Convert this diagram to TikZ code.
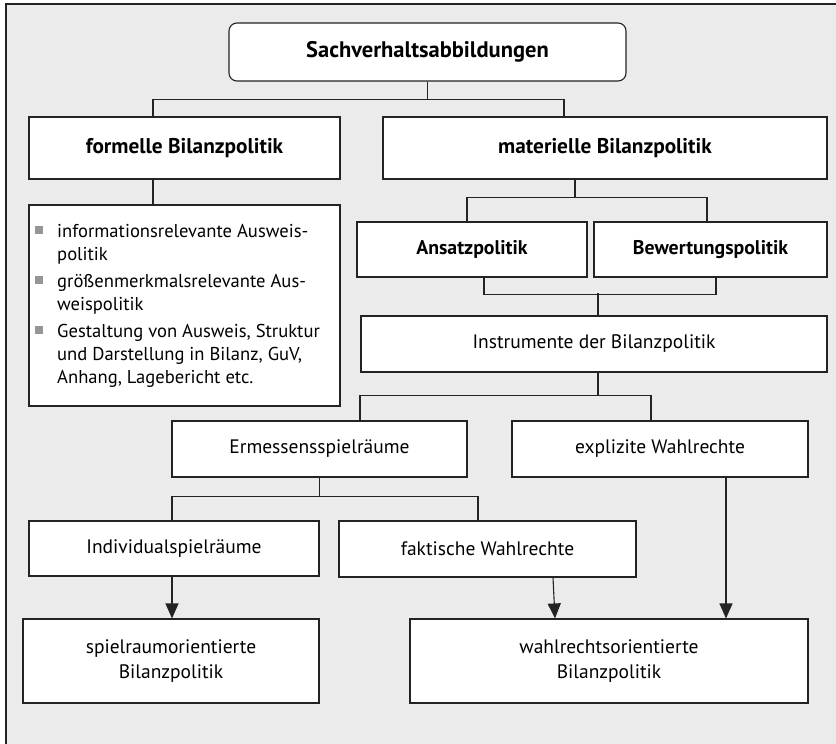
\documentclass[tikz,border=0pt]{standalone}
\usepackage{fontspec}
\setmainfont{PT Sans}
\usetikzlibrary{arrows.meta}
\definecolor{bg}{RGB}{235,235,235}
\definecolor{ln}{RGB}{35,35,35}
\definecolor{bulletgray}{RGB}{150,150,150}
\newcommand{\blt}{\textcolor{bulletgray}{\raisebox{3pt}{\rule{8pt}{8pt}}}}
\begin{document}
\begin{tikzpicture}[x=1pt,y=-1pt,
  box/.style={draw=ln, line width=1.1pt, fill=white, inner sep=0pt, text=black,
              font=\fontsize{19.5}{25}\selectfont, align=center},
  boldbox/.style={box, font=\fontsize{21.3}{23}\selectfont\bfseries},
  smallbold/.style={box, font=\fontsize{19.8}{22}\selectfont\bfseries},
  conn/.style={draw=ln, line width=1.1pt},
  arr/.style={conn, -{Triangle[length=15pt,width=13pt]}}]
\useasboundingbox (0,0) rectangle (836,744);
\fill[bg] (6,4) rectangle (836,744);
\draw[line width=1.2pt, ln] (6,744) -- (6,4) -- (836,4);

\node[boldbox, font=\fontsize{22.5}{24}\selectfont\bfseries, rounded corners=8pt, minimum width=397, minimum height=58] (root) at (427.5,52) {Sachverhaltsabbildungen};
\node[boldbox, minimum width=311, minimum height=62] (form) at (184.5,148) {formelle Bilanzpolitik};
\node[boldbox, minimum width=444, minimum height=62] (mat) at (605,148) {materielle Bilanzpolitik};
\node[box, minimum width=311, minimum height=201] (list) at (184.5,305.5) {};
\node[anchor=north west, inner sep=0pt, font=\fontsize{18.6}{23}\selectfont, align=left] (listtext) at (35,221)
 {\begin{tabular}{@{}l@{\hspace{14pt}}l@{}}
  \blt & informationsrelevante Ausweis-\\
       & politik\\[4pt]
  \blt & größenmerkmalsrelevante Aus-\\
       & weispolitik\\[4pt]
  \blt & Gestaltung von Ausweis, Struktur\\
       & und Darstellung in Bilanz, GuV,\\
       & Anhang, Lagebericht etc.
  \end{tabular}};
\node[smallbold, minimum width=230, minimum height=55] (ans) at (472,249.5) {Ansatzpolitik};
\node[smallbold, minimum width=233, minimum height=55] (bew) at (710.5,249.5) {Bewertungspolitik};
\node[box, minimum width=466, minimum height=56] (instr) at (594,344) {Instrumente der Bilanzpolitik};
\node[box, minimum width=295, minimum height=56] (erm) at (319.5,449) {Ermessensspielräume};
\node[box, minimum width=296, minimum height=56] (expl) at (660,449) {explizite Wahlrechte};
\node[box, minimum width=290, minimum height=55] (indiv) at (174,548.5) {Individualspielräume};
\node[box, minimum width=297, minimum height=56] (fakt) at (487.5,549) {faktische Wahlrechte};
\node[box, minimum width=296, minimum height=84] (spiel) at (171,661) {spielraumorientierte\\Bilanzpolitik};
\node[box, minimum width=398, minimum height=84] (wahl) at (609,661) {wahlrechtsorientierte\\Bilanzpolitik};

% connectors
\draw[conn] (root.south) -- ++(0,18) -| ([xshift=-31.5]form.north);
\draw[conn] (root.south) -- ++(0,18) -| ([xshift=-41]mat.north);
\draw[conn] ([xshift=-31.5]form.south) -- ([xshift=-31.5]list.north);
\draw[conn] ([xshift=-30]mat.south) -- ++(0,18) -| ([xshift=-5]ans.north);
\draw[conn] ([xshift=-30]mat.south) -- ++(0,18) -| ([xshift=-3.5]bew.north);
\draw[conn] ([xshift=12]ans.south) -- ++(0,17) -| ([xshift=5.5]bew.south);
\draw[conn] ([xshift=4]instr.north) -- ++(0,-22);
\draw[conn] ([xshift=4]instr.south) -- ++(0,23) -| ([xshift=40.5]erm.north);
\draw[conn] ([xshift=4]instr.south) -- ++(0,23) -| ([xshift=-9]expl.north);
\draw[conn] (erm.south) -- ++(0,19) -| ([xshift=-2]indiv.north);
\draw[conn] (erm.south) -- ++(0,19) -| ([xshift=-9.5]fakt.north);
\draw[arr] ([xshift=-2]indiv.south) -- ([xshift=1]spiel.north);
\draw[arr] ([xshift=65.5]fakt.south) -- ([xshift=-54]wahl.north);
\draw[arr] ([xshift=66]expl.south) -- ([xshift=117]wahl.north);
\end{tikzpicture}
\end{document}
